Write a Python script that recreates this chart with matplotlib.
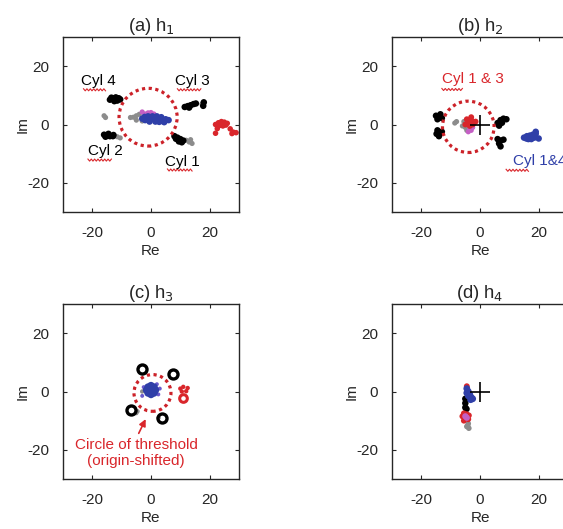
import numpy as np
import matplotlib.pyplot as plt
from matplotlib.patches import Circle

plt.rcParams['font.family'] = ['Liberation Sans', 'DejaVu Sans']
plt.rcParams['font.size'] = 11
plt.rcParams['axes.unicode_minus'] = False

RED = '#d9262b'
BLUE = '#2f3fa8'
MAG = '#c45fc4'
GRAY = '#8c8c8c'

titles = ['(a) h$_1$', '(b) h$_2$', '(c) h$_3$', '(d) h$_4$']
ticks = [-20, 0, 20]

# panel (a) h1
h1_black = [(-14, 8.5), (-13, 9), (-12, 9.3), (-11, 9), (-12.5, 8), (-11.5, 8.2), (-13.5, 9.2), (-10.5, 8.6),
            (-16, -3.5), (-15, -3.8), (-14, -4), (-13, -4), (-15.5, -4.2), (-14.5, -3.2), (-12.8, -3.6),
            (11.5, 6), (12.5, 6.3), (13.5, 6.6), (14.5, 7), (15.3, 7.2), (13, 5.8), (18, 7.6), (17.8, 6.4),
            (8, -4), (9, -4.5), (10, -5), (11, -5.5), (9.5, -5.8), (8.5, -4.9), (10.5, -6.1)]
h1_gray = [(-16, 3), (-15.5, 2.4), (-6, 2.5), (-5, 3), (-4, 3.5), (-7, 2.4), (-5, 1.5), (-3, 1.2),
           (12, -5.4), (13, -6), (14, -6.5), (13.5, -5.2), (-11.5, -4.2), (-10.5, -4.6), (17.4, 7)]
h1_mag = [(-2, 3.6), (-1, 4), (0, 4.1), (-3, 4.3), (1, 3.6), (-1.5, 3.1), (0.5, 3.2)]
h1_blue = [(-3, 2), (-2, 1.5), (-1, 2), (0, 1.8), (1, 2.3), (2, 1.6), (3, 1.8), (4, 1.2), (5, 1.8), (6, 1.5),
           (-1, 2.8), (0.5, 2.8), (2, 2.8), (3.5, 2.5), (-0.5, 1), (1.5, 1), (4.5, 0.8), (-2.2, 2.6), (2.8, 0.9)]
h1_red = [(22, 0), (23, 0.6), (24, 1), (25, 0.8), (26, 0.4), (24.5, -0.5), (23.5, -0.3), (22.6, -1.4),
          (22, -3), (27, -1.5), (28, -2.6), (29, -2.8), (27.6, -3.1), (25.5, -0.2)]
h1_circle = (-1, 2.5, 9.9)

# panel (b) h2
h2_black = [(-15, 3), (-14, 2.5), (-13.5, 3.5), (-14.5, 1.8), (-13, 2.2),
            (-14.5, -2), (-13.5, -3), (-14, -4), (-13, -2.5), (-14.8, -3.2),
            (6, 0.5), (7, 1.5), (8, 2), (9, 1.8), (6.5, -0.4), (7.5, 0.6),
            (6, -5), (7, -5.5), (6.5, -6.5), (7, -7.5), (8, -5.2)]
h2_gray = [(-8, 1), (-8.6, 0.5), (-5.5, 1), (-5, -1), (-4.5, -2), (-6, -0.5), (-3.5, 1.5)]
h2_red = [(-5, 0), (-4, 1), (-3, 1.5), (-3.5, -0.5), (-2.5, 0), (-2, 0.6), (-3, 2.5), (-4.5, 1.8), (-1.5, 1)]
h2_mag = [(-3.5, -1.5), (-3, -2), (-2.5, -1), (-4, -2.5)]
h2_blue = [(15, -4.5), (16, -4), (17, -3.8), (18, -3.5), (19, -2.5), (18.5, -4.5), (17.5, -5), (16.5, -5),
           (20, -4.8), (19, -3.2), (15.8, -4.8)]
h2_circle = (-4, -0.8, 8.8)

# panel (c) h3
h3_rings = [(-3.2, 7.8), (7.5, 6), (-6.8, -6.3), (3.8, -9.2)]
h3_blue = [(-1.5, 0.5), (-1, 1.5), (0, 2), (1, 1.5), (1.5, 0.5), (1, -0.5), (0, -1), (-1, -0.5),
           (0, 0.5), (0.5, 1), (-0.5, 0)]
h3_mag = [(-3, -1.5), (2.5, -1), (3, 1), (-2.5, 1.5), (2, 2.5)]
h3_gray = [(-4.6, -6.8), (-5, -7.4), (-3, 0), (2.6, -9)]
h3_red_ring = [(11, -2.2)]
h3_red = [(10, 1), (11, 1.6), (12.5, 1.2), (10.5, 0), (12, 0.1)]
h3_circle = (0.5, -0.5, 6.3)

# panel (d) h4
h4_blue = [(-4.5, 1), (-4, 0), (-3.5, -1), (-3, -2), (-2.5, -2.5), (-4, -1.5), (-4.5, -0.5), (-3.2, -2.8)]
h4_red = [(-4.5, 1.8), (-5.5, -7.5), (-4.5, -7.8), (-5, -9), (-4, -9.5), (-5.5, -10), (-6, -8.5), (-3.8, -8.2)]
h4_black = [(-5, -2.5), (-5, -4), (-5, -5.5), (-4.6, -6)]
h4_mag = [(-5, -8.5), (-4.5, -9)]
h4_gray = [(-4, -11), (-4.5, -12), (-3.8, -12.6), (-4.2, -11.8)]

# labels: (text, x, y, colour), squiggles: (x0, x1, y)
h1_labels = [('Cyl 4', -18, 15, 'k'), ('Cyl 3', 14, 15, 'k'), ('Cyl 2', -15.7, -9.2, 'k'), ('Cyl 1', 10.6, -12.7, 'k')]
h1_squig = [(-23, -15.5, 11.9), (9, 17, 11.9), (-21.5, -13.5, -12.2), (5.6, 14, -15.6)]
h2_labels = [('Cyl 1 & 3', -2.5, 15.7, RED), ('Cyl 1&4', 20.5, -12.6, BLUE)]
h2_squig = [(-13, -6, 12), (8.9, 16.5, -15.7)]


def pts(ax, data, color, s=14, **kw):
    xy = np.array(data)
    ax.scatter(xy[:, 0], xy[:, 1], s=s, color=color, edgecolors='none', **kw)


def squiggle(ax, x0, x1, y):
    xs = np.linspace(x0, x1, int((x1 - x0) / 0.55) + 1)
    ys = y + np.where(np.arange(len(xs)) % 2 == 0, 0.35, -0.35)
    ax.plot(xs, ys, color=RED, lw=0.8)


def dotted_circle(ax, c):
    ax.add_patch(Circle((c[0], c[1]), c[2], fill=False, color='#cc2229', lw=2.3, ls=(0, (1, 1.1))))


fig = plt.figure(figsize=(5.63, 5.29), dpi=100)
W, H = 176 / 563, 175 / 529
lefts = [63 / 563, 392 / 563, 63 / 563, 392 / 563]
bottoms = [1 - 212 / 529, 1 - 212 / 529, 1 - 479 / 529, 1 - 479 / 529]
axes = []
for i in range(4):
    ax = fig.add_axes([lefts[i], bottoms[i], W, H])
    ax.set_xlim(-30, 30)
    ax.set_ylim(-30, 30)
    ax.set_xticks(ticks)
    ax.set_yticks(ticks)
    ax.tick_params(direction='in', length=3, pad=10, top=True, right=True, colors='#262626', width=0.8)
    for sp in ax.spines.values():
        sp.set_color('#262626')
        sp.set_linewidth(1)
    ax.set_xlabel('Re', color='#262626', labelpad=3)
    ax.set_ylabel('Im', color='#262626', labelpad=-2)
    ax.set_title(titles[i], color='#262626', pad=4)
    axes.append(ax)

a, b, c, d = axes

# (a)
pts(a, h1_gray, GRAY)
pts(a, h1_black, 'k', s=22)
pts(a, h1_mag, MAG)
pts(a, h1_blue, BLUE, s=22)
pts(a, h1_red, RED, s=16)
dotted_circle(a, h1_circle)
for t, x, y, col in h1_labels:
    a.text(x, y, t, color=col, ha='center', va='center')
for x0, x1, y in h1_squig:
    squiggle(a, x0, x1, y)

# (b)
pts(b, h2_gray, GRAY)
pts(b, h2_black, 'k', s=22)
pts(b, h2_mag, MAG)
pts(b, h2_red, RED, s=18)
pts(b, h2_blue, BLUE, s=22)
dotted_circle(b, h2_circle)
b.plot([0], [0], marker='+', color='k', ms=15, mew=1.2)
for t, x, y, col in h2_labels:
    b.text(x, y, t, color=col, ha='center', va='center')
for x0, x1, y in h2_squig:
    squiggle(b, x0, x1, y)

# (c)
xy = np.array(h3_rings)
c.plot(xy[:, 0], xy[:, 1], 'o', ls='none', ms=6.5, mfc='none', mec='k', mew=2.4)
pts(c, h3_gray, GRAY, s=10)
pts(c, h3_mag, '#6a5acd', s=8)
pts(c, h3_blue, BLUE, s=30)
xy = np.array(h3_red_ring)
c.plot(xy[:, 0], xy[:, 1], 'o', ls='none', ms=5.5, mfc='none', mec=RED, mew=2.2)
pts(c, h3_red, RED, s=10)
dotted_circle(c, h3_circle)
c.annotate('', xy=(-1.4, -8.6), xytext=(-4.6, -15.2),
           arrowprops=dict(arrowstyle='-|>', color=RED, lw=1.2, mutation_scale=10))
c.text(-5.1, -18.4, 'Circle of threshold', color=RED, ha='center', va='center')
c.text(-5.1, -23.9, '(origin-shifted)', color=RED, ha='center', va='center')

# (d)
pts(d, h4_gray, GRAY, s=16)
pts(d, h4_black, 'k', s=22)
pts(d, h4_red, RED, s=18)
pts(d, h4_mag, MAG, s=20)
pts(d, h4_blue, BLUE, s=24)
d.plot([0], [0], marker='+', color='k', ms=15, mew=1.2)

fig.savefig('out.png', dpi=100)
